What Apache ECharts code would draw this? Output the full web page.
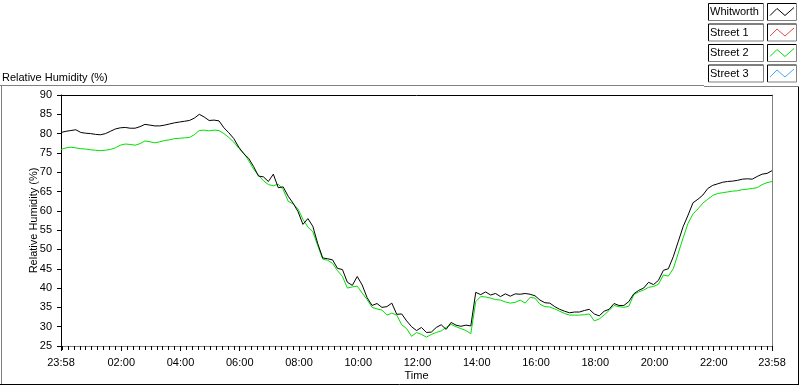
<!DOCTYPE html>
<html>
<head>
<meta charset="utf-8">
<script src="https://cdn.jsdelivr.net/npm/echarts@6/dist/echarts.min.js"></script>
<style>
  html, body { margin: 0; padding: 0; background: #fff; }
  #chart { width: 800px; height: 386px; }
</style>
</head>
<body>
<div id="chart"></div>
<script>
// relative humidity, one reading every 10 minutes from 23:58
const whitworth = [
  80.3, 80.6, 80.8, 81.0, 80.3, 80.1, 80.0, 79.8, 79.7, 80.0,
  80.6, 81.2, 81.5, 81.6, 81.4, 81.4, 81.8, 82.4, 82.2, 82.0,
  82.0, 82.2, 82.5, 82.8, 83.0, 83.2, 83.4, 84.0, 85.0, 84.3,
  83.4, 83.5, 83.3, 81.5, 80.2, 78.7, 76.5, 74.8, 73.6, 71.5,
  69.0, 68.8, 67.6, 69.5, 66.0, 66.2, 63.8, 62.0, 59.8, 56.5,
  58.0, 56.0, 51.5, 47.8, 47.6, 47.3, 45.1, 44.8, 41.5, 40.7,
  43.0, 40.8, 37.5, 35.5, 36.0, 35.0, 35.2, 36.1, 33.2, 33.3,
  31.5, 30.0, 29.0, 29.8, 28.5, 28.6, 29.8, 30.5, 29.3, 31.1,
  30.4, 30.1, 30.4, 30.2, 38.9, 38.3, 39.0, 38.2, 38.6, 37.8,
  38.5, 37.9, 38.5, 38.4, 38.6, 38.4, 38.0, 36.9, 36.2, 36.1,
  35.2, 34.5, 34.0, 33.6, 33.8, 33.8, 34.2, 34.5, 33.3, 32.8,
  34.0, 34.5, 36.0, 35.5, 35.5, 36.5, 38.5, 39.4, 40.0, 41.5,
  40.9, 42.0, 44.6, 45.0, 48.1, 52.0, 55.9, 58.9, 62.1, 63.0,
  64.1, 65.8, 66.6, 67.0, 67.4, 67.6, 67.7, 67.9, 68.2, 68.3,
  68.2, 68.9, 69.5, 69.7, 70.4
];
const street1 = [];
const street2 = [
  75.9, 76.3, 76.5, 76.3, 76.1, 76.0, 75.8, 75.7, 75.6, 75.7,
  75.9, 76.3, 77.0, 77.3, 77.2, 77.0, 77.4, 78.1, 77.9, 77.6,
  77.9, 78.2, 78.4, 78.7, 78.8, 78.9, 79.0, 79.7, 80.8, 80.9,
  80.7, 80.9, 80.8, 80.0, 79.0, 77.8, 76.2, 75.0, 73.0, 70.8,
  69.2, 67.8, 66.8, 66.5, 66.9, 65.5, 62.5, 61.8, 60.5, 57.8,
  55.8, 54.6, 51.0, 47.5, 47.2, 46.4, 44.5, 43.0, 40.0, 40.3,
  40.5, 38.7, 37.0, 35.0, 34.6, 34.3, 33.0, 33.5, 33.0, 30.5,
  29.5, 27.5, 28.5, 28.0, 27.3, 28.0, 28.5, 28.9, 29.8, 30.6,
  30.0, 29.5, 29.0, 28.2, 36.5, 37.8, 37.7, 37.4, 37.0, 36.9,
  36.4, 36.1, 36.3, 36.9, 36.1, 37.6, 37.4, 35.8, 35.2, 35.1,
  34.6, 34.0, 33.4, 33.0, 33.0, 33.0, 33.1, 33.3, 31.5, 32.0,
  33.0, 34.2, 35.5, 35.2, 35.0, 35.3, 38.3, 39.0, 39.5, 40.2,
  40.4, 41.0, 43.4, 43.1, 45.0, 49.0, 53.0, 56.8, 59.2, 60.5,
  62.0, 63.0, 64.0, 64.5, 64.7, 64.9, 65.1, 65.2, 65.5, 65.6,
  65.8, 66.0, 66.8, 67.3, 67.6
];
const street3 = [];

const timeLabels = ['23:58', '02:00', '04:00', '06:00', '08:00', '10:00', '12:00',
  '14:00', '16:00', '18:00', '20:00', '22:00', '23:58'];
const yMin = 25, yMax = 90, yStep = 5;

const START = 23 * 60 + 58;
function toOffset(label, i) {
  if (i === timeLabels.length - 1) return 1440;
  const p = label.split(':');
  return (parseInt(p[0]) * 60 + parseInt(p[1]) - START + 1440) % 1440;
}
const majorTicks = timeLabels.map(toOffset);
const minorTicks = [];
for (let t = 2; t < 1440; t += 12) minorTicks.push(t);

const pairs = arr => arr.map((v, i) => [i * 10, v]);

const font = 'Liberation Sans, Arial, sans-serif';
const legendNames = ['Whitworth', 'Street 1', 'Street 2', 'Street 3'];
const legendColors = ['#000000', '#ee4444', '#00e000', '#44a8ff'];

const graphic = [
  { type: 'text', left: 2, top: 72, style: { text: 'Relative Humidity (%)', font: '11px ' + font, fill: '#000' } },
  // outer frame
  { type: 'line', shape: { x1: 0, y1: 85.5, x2: 704, y2: 85.5 }, style: { stroke: '#808080', lineWidth: 1 } },
  { type: 'line', shape: { x1: 1.5, y1: 85, x2: 1.5, y2: 384 }, style: { stroke: '#808080', lineWidth: 1 } },
  { type: 'line', shape: { x1: 0, y1: 384.5, x2: 799, y2: 384.5 }, style: { stroke: '#000', lineWidth: 1 } },
  { type: 'line', shape: { x1: 798.5, y1: 86, x2: 798.5, y2: 385 }, style: { stroke: '#000', lineWidth: 1 } },
  { type: 'line', shape: { x1: 704, y1: 86.5, x2: 799, y2: 86.5 }, style: { stroke: '#808080', lineWidth: 1 } }
];
legendNames.forEach((name, i) => {
  const y = 3.5 + i * 20.5;
  graphic.push(
    { type: 'polyline', shape: { points: [[708.5, y + 17], [708.5, y], [763.5, y]] }, style: { stroke: '#000', fill: null } },
    { type: 'polyline', shape: { points: [[763.5, y], [763.5, y + 17], [708.5, y + 17]] }, style: { stroke: '#808080', fill: null } },
    { type: 'text', left: 710, top: y + 3, style: { text: name, font: '11px ' + font, fill: '#000' } },
    { type: 'polyline', shape: { points: [[767.5, y + 17], [767.5, y], [796.5, y]] }, style: { stroke: '#000', fill: null } },
    { type: 'polyline', shape: { points: [[796.5, y], [796.5, y + 17], [767.5, y + 17]] }, style: { stroke: '#808080', fill: null } },
    { type: 'polyline', shape: { points: [[770, y + 12], [777, y + 5], [785, y + 12], [794, y + 4]] }, style: { stroke: legendColors[i], lineWidth: 1, fill: null } }
  );
});

const chart = echarts.init(document.getElementById('chart'), null, { renderer: 'canvas' });
chart.setOption({
  animation: false,
  backgroundColor: '#fff',
  textStyle: { fontFamily: font },
  grid: { left: 61, right: 28, top: 95, bottom: 40 },
  xAxis: [{
    type: 'value', min: 0, max: 1440, position: 'bottom',
    name: 'Time', nameLocation: 'middle', nameGap: 24, nameMoveOverlap: false,
    nameTextStyle: { color: '#000', fontSize: 11, fontFamily: font },
    axisLine: { onZero: false, lineStyle: { color: '#808080', width: 1 } },
    axisTick: { customValues: majorTicks, length: 5, lineStyle: { color: '#000' } },
    axisLabel: {
      customValues: majorTicks, margin: 11, color: '#000', fontSize: 11, fontFamily: font,
      formatter: v => timeLabels[majorTicks.indexOf(v)] || ''
    },
    splitLine: { show: false }
  }, {
    type: 'value', min: 0, max: 1440, position: 'bottom',
    axisLine: { show: false, onZero: false },
    axisTick: { customValues: minorTicks, length: 4, lineStyle: { color: '#000' } },
    axisLabel: { show: false },
    splitLine: { show: false }
  }, {
    type: 'value', min: 0, max: 1440, position: 'top',
    axisLine: { onZero: false, lineStyle: { color: '#000', width: 1 } },
    axisTick: { show: false }, axisLabel: { show: false }, splitLine: { show: false }
  }],
  yAxis: [{
    type: 'value', min: yMin, max: yMax, interval: yStep, position: 'left',
    name: 'Relative Humidity (%)', nameLocation: 'middle', nameGap: 22, nameMoveOverlap: false,
    nameTextStyle: { color: '#000', fontSize: 11, fontFamily: font },
    axisLine: { show: true, onZero: false, lineStyle: { color: '#000', width: 1 } },
    axisTick: { show: true, length: 4, lineStyle: { color: '#000' } },
    axisLabel: { margin: 9, color: '#000', fontSize: 11, fontFamily: font },
    splitLine: { show: false }
  }, {
    type: 'value', min: yMin, max: yMax, interval: yStep, position: 'right',
    axisLine: { show: true, onZero: false, lineStyle: { color: '#808080', width: 1 } },
    axisTick: { show: false }, axisLabel: { show: false }, splitLine: { show: false }
  }],
  graphic: graphic,
  series: [
    { name: 'Street 1', type: 'line', data: pairs(street1), showSymbol: false, lineStyle: { color: legendColors[1], width: 1 } },
    { name: 'Street 3', type: 'line', data: pairs(street3), showSymbol: false, lineStyle: { color: legendColors[3], width: 1 } },
    { name: 'Street 2', type: 'line', data: pairs(street2), showSymbol: false, lineStyle: { color: legendColors[2], width: 1 }, z: 2 },
    { name: 'Whitworth', type: 'line', data: pairs(whitworth), showSymbol: false, lineStyle: { color: legendColors[0], width: 1 }, z: 3 }
  ]
});
</script>
</body>
</html>
